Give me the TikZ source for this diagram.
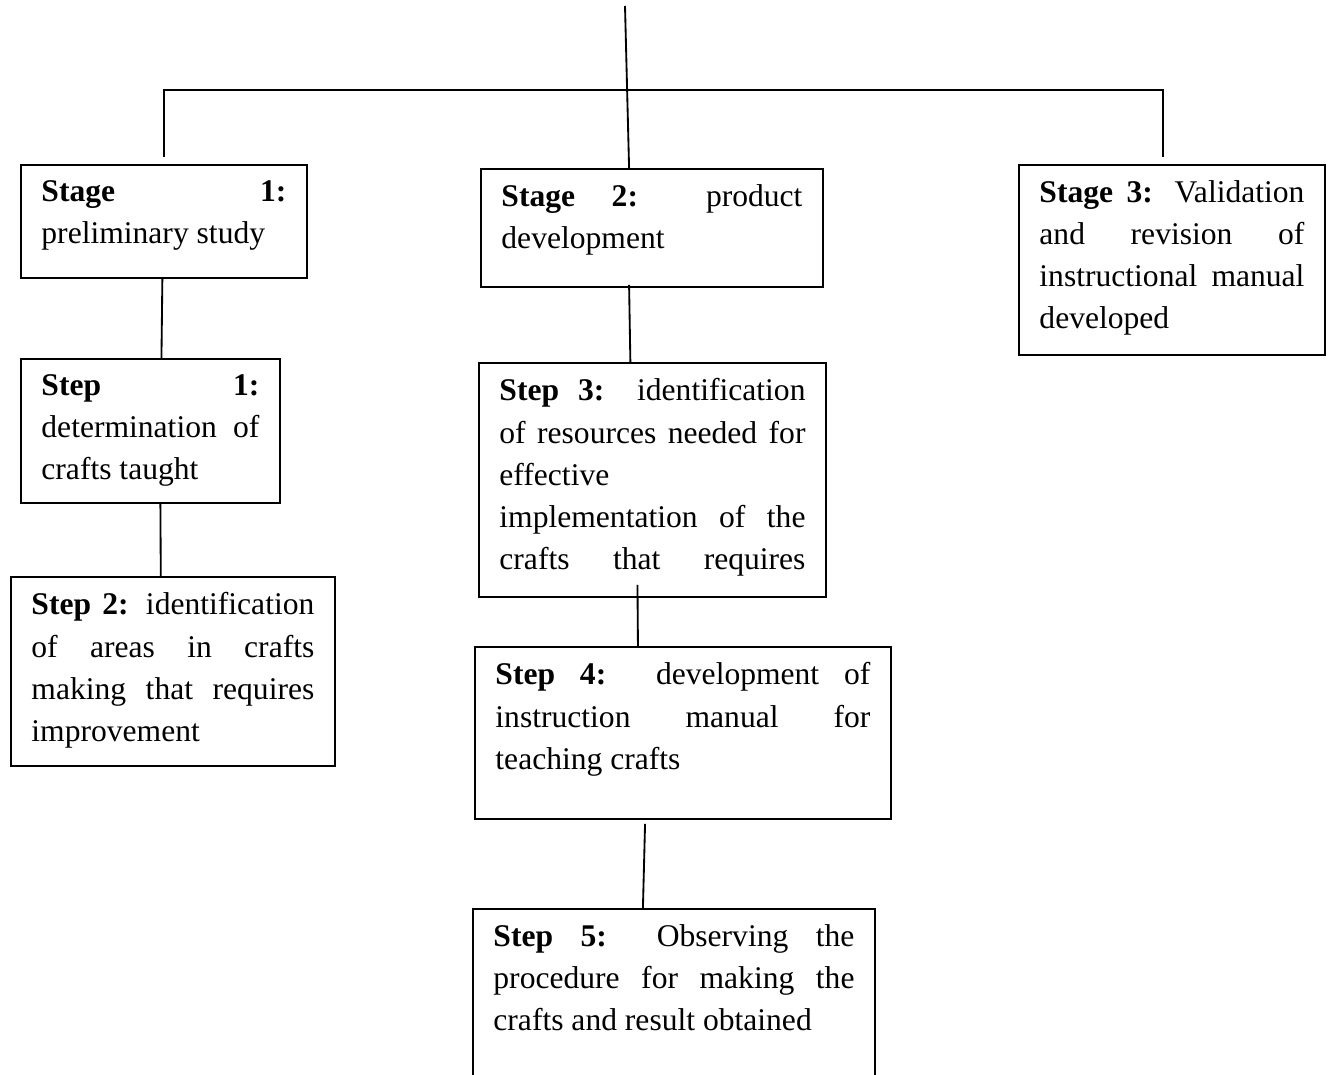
\documentclass[tikz,border=0pt]{standalone}
\usepackage{fontspec}
\setmainfont{Liberation Serif}
\newcommand{\boxtext}[3]{\parbox[c][#2][t]{#1}{\tolerance=10000\hyphenpenalty=10000\exhyphenpenalty=10000 #3}}

\begin{document}
\begin{tikzpicture}[x=0.38pt,y=-0.38pt,
  stagebox/.style={draw,line width=0.7pt,anchor=north west,inner xsep=7.8pt,inner ysep=6pt,font=\fontsize{12pt}{16pt}\selectfont},
  link/.style={line width=0.7pt}]
\useasboundingbox (0,0) rectangle (1334,1074);
\clip (0,0) rectangle (1334,1074);
% boxes
\foreach \name/\x/\y/\w/\h/\txt in {
stage1/20/164/93.1/30.9/{\textbf{Stage 1:}\linebreak preliminary study},
stage2/480/168/114.4/32.8/{\textbf{Stage 2:} product\linebreak development},
stage3/1018/164/100.7/60.2/{\textbf{Stage 3:} Validation\linebreak and revision of\linebreak instructional manual\linebreak developed},
step1/20/358/82.8/42.7/{\textbf{Step 1:}\linebreak determination of\linebreak crafts taught},
step2/10/576/107.5/59.8/{\textbf{Step 2:} identification\linebreak of areas in crafts\linebreak making that requires\linebreak improvement},
step3/478/362/116.3/76.9/{\parfillskip=0pt\relax\textbf{Step 3:} identification\linebreak of resources needed for\linebreak effective\\ implementation of the\linebreak crafts that requires},
step4/474/646/142.5/53.4/{\textbf{Step 4:}\ \ development of\linebreak instruction manual for\linebreak teaching crafts},
step5/472/908/137.2/64/{\textbf{Step 5:} Observing the\linebreak procedure for making the\linebreak crafts and result obtained}}
{
  \node[stagebox] (\name) at (\x,\y) {\boxtext{\w pt}{\h pt}{\txt}};
}
% tree lines
\coordinate (root) at (625,6);
\coordinate (bar) at (625,90);
\draw[link] (root) -- ([xshift=-8.7pt]stage2.north);
\draw[link] ([yshift=2.7pt]stage1.north) |- (bar) -| ([xshift=-3.4pt,yshift=2.7pt]stage3.north);
\foreach \a/\sa/\ya/\b/\sb in {stage1/-0.6/0/step1/4.2,step1/3.8/0/step2/-4.6,stage2/-8.7/1.1/step3/-8.4,step3/-5.7/4.9/step4/-17.1,step4/-14.4/-1.5/step5/-11.8}
  {\draw[link] ([xshift=\sa pt,yshift=\ya pt]\a.south) -- ([xshift=\sb pt]\b.north);}
\end{tikzpicture}
\end{document}
